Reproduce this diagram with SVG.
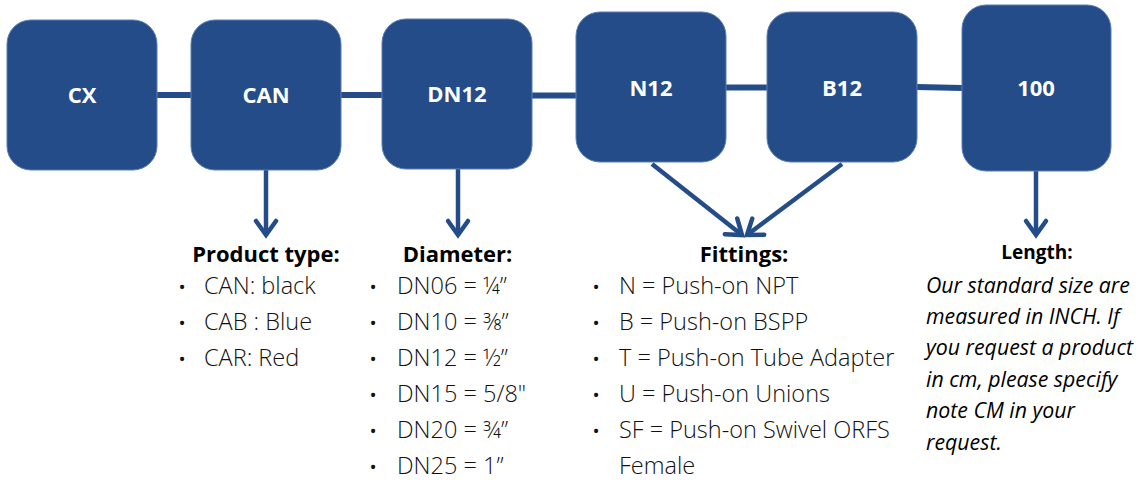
<svg xmlns="http://www.w3.org/2000/svg" width="1142" height="482" viewBox="0 0 1142 482">
<style>
.box{fill:#244c89;stroke:#5b7db3;stroke-width:1}
.lbl{font-family:"Open Sans","Liberation Sans",sans-serif;font-weight:700;font-size:22px;fill:#ffffff;text-anchor:middle}
.con{stroke:#244c89;stroke-width:6;fill:none}
.arr{stroke:#244c89;stroke-width:4.5;fill:none;marker-end:url(#head)}
.hd{font-family:"Open Sans","Liberation Sans",sans-serif;font-weight:700;font-size:22px;fill:#000000;text-anchor:middle}
.it{font-family:"Open Sans","Liberation Sans",sans-serif;font-weight:300;font-size:23.5px;fill:#111111}
.bu{font-family:"Open Sans","Liberation Sans",sans-serif;font-size:19px;fill:#111111;text-anchor:middle}
.len{font-family:"Open Sans","Liberation Sans",sans-serif;font-style:italic;font-size:21.3px;fill:#000000}
</style>
<defs>
<marker id="head" markerUnits="userSpaceOnUse" viewBox="-20 -14 24 28" refX="0" refY="0" markerWidth="24" markerHeight="28" orient="auto" overflow="visible">
<path d="M -14 -10 L 0 0 L -14 10" fill="none" stroke="#244c89" stroke-width="4.5" stroke-linecap="round" stroke-linejoin="miter"/>
</marker>
</defs>
<g id="connectors">
<line class="con" x1="157" y1="95" x2="191" y2="95"/>
<line class="con" x1="341" y1="95" x2="382" y2="95"/>
<line class="con" x1="532" y1="95.5" x2="576" y2="95.5"/>
<line class="con" x1="726" y1="87.5" x2="767" y2="87.5"/>
<line class="con" x1="917" y1="87" x2="962" y2="88"/>
<line class="arr" x1="266" y1="170" x2="266" y2="235"/>
<line class="arr" x1="458" y1="169" x2="458" y2="235"/>
<line class="arr" x1="652" y1="164" x2="742" y2="235"/>
<line class="arr" x1="842" y1="164" x2="747" y2="235"/>
<line class="arr" x1="1036" y1="171" x2="1036" y2="235"/>
</g>
<g id="node-cx"><rect class="box" x="7" y="20" width="150" height="150" rx="24"/><text class="lbl" x="82" y="103">CX</text></g>
<g id="node-can"><rect class="box" x="191" y="20" width="150" height="150" rx="24"/><text class="lbl" x="266" y="103">CAN</text></g>
<g id="node-dn12"><rect class="box" x="382" y="19" width="150" height="150" rx="24"/><text class="lbl" x="457" y="102">DN12</text></g>
<g id="node-n12"><rect class="box" x="576" y="12" width="150" height="150" rx="24"/><text class="lbl" x="651" y="96">N12</text></g>
<g id="node-b12"><rect class="box" x="767" y="12" width="150" height="150" rx="24"/><text class="lbl" x="842" y="96">B12</text></g>
<g id="node-100"><rect class="box" x="962" y="5" width="149" height="166" rx="24"/><text class="lbl" x="1036" y="96">100</text></g>
<g id="product-type">
<text class="hd" x="266" y="262">Product type:</text>
<text class="bu" x="182" y="294">•</text><text class="it" x="204" y="294">CAN: black</text>
<text class="bu" x="182" y="330">•</text><text class="it" x="204" y="330">CAB : Blue</text>
<text class="bu" x="182" y="366">•</text><text class="it" x="204" y="366">CAR: Red</text>
</g>
<g id="diameter">
<text class="hd" x="457.5" y="262">Diameter:</text>
<text class="bu" x="373" y="294">•</text><text class="it" x="397" y="294">DN06 = ¼”</text>
<text class="bu" x="373" y="330">•</text><text class="it" x="397" y="330">DN10 = ⅜”</text>
<text class="bu" x="373" y="366">•</text><text class="it" x="397" y="366">DN12 = ½”</text>
<text class="bu" x="373" y="402">•</text><text class="it" x="397" y="402">DN15 = 5/8"</text>
<text class="bu" x="373" y="438">•</text><text class="it" x="397" y="438">DN20 = ¾”</text>
<text class="bu" x="373" y="474">•</text><text class="it" x="397" y="474">DN25 = 1”</text>
</g>
<g id="fittings">
<text class="hd" x="744" y="262">Fittings:</text>
<text class="bu" x="596" y="294">•</text><text class="it" x="619" y="294">N = Push-on NPT</text>
<text class="bu" x="596" y="330">•</text><text class="it" x="619" y="330">B = Push-on BSPP</text>
<text class="bu" x="596" y="366">•</text><text class="it" x="619" y="366">T = Push-on Tube Adapter</text>
<text class="bu" x="596" y="402">•</text><text class="it" x="619" y="402">U = Push-on Unions</text>
<text class="bu" x="596" y="438">•</text><text class="it" x="619" y="438">SF = Push-on Swivel ORFS</text>
<text class="it" x="619" y="474">Female</text>
</g>
<g id="length">
<text class="hd" x="1037" y="259" style="font-size:19px">Length:</text>
<text class="len" x="926" y="293">Our standard size are</text>
<text class="len" x="926" y="324">measured in INCH. If</text>
<text class="len" x="926" y="355">you request a product</text>
<text class="len" x="926" y="387">in cm, please specify</text>
<text class="len" x="926" y="418">note CM in your</text>
<text class="len" x="926" y="450">request.</text>
</g>
</svg>
